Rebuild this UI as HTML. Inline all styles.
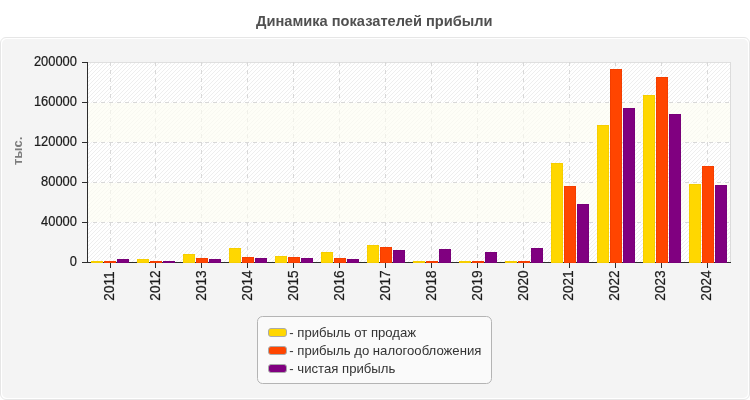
<!DOCTYPE html>
<html lang="ru"><head><meta charset="utf-8"><title>Динамика показателей прибыли</title>
<style>html,body{margin:0;padding:0;background:#fff}body{width:750px;height:400px;overflow:hidden}svg{display:block}text{font-family:"Liberation Sans",sans-serif}</style>
</head><body>
<svg width="750" height="400" viewBox="0 0 750 400">
<defs><pattern id="h" width="4" height="4" patternUnits="userSpaceOnUse"><rect x="1" y="0" width="1" height="1" fill="#eee"/><rect x="0" y="1" width="1" height="1" fill="#eee"/><rect x="3" y="2" width="1" height="1" fill="#eee"/><rect x="2" y="3" width="1" height="1" fill="#eee"/></pattern></defs>
<rect width="750" height="400" fill="#fff"/>
<rect x="0.5" y="37.5" width="749" height="362" rx="5.5" fill="none" stroke="#e6e6e6"/>
<rect x="2" y="39" width="746" height="359" rx="5" fill="#f4f4f4"/>
<text x="374.3" y="25.6" text-anchor="middle" font-weight="bold" font-size="14.63" fill="#505050">Динамика показателей прибыли</text>
<g shape-rendering="crispEdges">
<rect x="88" y="62" width="643" height="201" fill="#fff"/>
<rect x="88" y="63" width="642" height="199" fill="url(#h)"/>
<rect x="88" y="62" width="643" height="1" fill="#dfdfdf"/>
<rect x="730" y="62" width="1" height="200" fill="#dcdcdc"/>
<line x1="110.5" y1="62" x2="110.5" y2="262" stroke="#d8d8d8" stroke-dasharray="4 4"/>
<line x1="155.5" y1="62" x2="155.5" y2="262" stroke="#d8d8d8" stroke-dasharray="4 4"/>
<line x1="201.5" y1="62" x2="201.5" y2="262" stroke="#d8d8d8" stroke-dasharray="4 4"/>
<line x1="247.5" y1="62" x2="247.5" y2="262" stroke="#d8d8d8" stroke-dasharray="4 4"/>
<line x1="293.5" y1="62" x2="293.5" y2="262" stroke="#d8d8d8" stroke-dasharray="4 4"/>
<line x1="339.5" y1="62" x2="339.5" y2="262" stroke="#d8d8d8" stroke-dasharray="4 4"/>
<line x1="385.5" y1="62" x2="385.5" y2="262" stroke="#d8d8d8" stroke-dasharray="4 4"/>
<line x1="431.5" y1="62" x2="431.5" y2="262" stroke="#d8d8d8" stroke-dasharray="4 4"/>
<line x1="477.5" y1="62" x2="477.5" y2="262" stroke="#d8d8d8" stroke-dasharray="4 4"/>
<line x1="523.5" y1="62" x2="523.5" y2="262" stroke="#d8d8d8" stroke-dasharray="4 4"/>
<line x1="569.5" y1="62" x2="569.5" y2="262" stroke="#d8d8d8" stroke-dasharray="4 4"/>
<line x1="615.5" y1="62" x2="615.5" y2="262" stroke="#d8d8d8" stroke-dasharray="4 4"/>
<line x1="661.5" y1="62" x2="661.5" y2="262" stroke="#d8d8d8" stroke-dasharray="4 4"/>
<line x1="707.5" y1="62" x2="707.5" y2="262" stroke="#d8d8d8" stroke-dasharray="4 4"/>
<rect x="88" y="103" width="642" height="39" fill="#fdfdf3" fill-opacity="0.65"/>
<rect x="88" y="183" width="642" height="39" fill="#fdfdf3" fill-opacity="0.65"/>
<line x1="85" y1="102.5" x2="730" y2="102.5" stroke="#d8d8d8" stroke-dasharray="4 4"/>
<line x1="85" y1="142.5" x2="730" y2="142.5" stroke="#d8d8d8" stroke-dasharray="4 4"/>
<line x1="85" y1="182.5" x2="730" y2="182.5" stroke="#d8d8d8" stroke-dasharray="4 4"/>
<line x1="85" y1="222.5" x2="730" y2="222.5" stroke="#d8d8d8" stroke-dasharray="4 4"/>
<rect x="85" y="100" width="2" height="124" fill="#f4f4f4"/>
<rect x="87" y="62" width="1" height="201" fill="#2d2d2d"/>
<rect x="87" y="262" width="644" height="1" fill="#2d2d2d"/>
<rect x="82" y="62" width="5" height="1" fill="#2d2d2d"/>
<rect x="82" y="102" width="5" height="1" fill="#2d2d2d"/>
<rect x="82" y="142" width="5" height="1" fill="#2d2d2d"/>
<rect x="82" y="182" width="5" height="1" fill="#2d2d2d"/>
<rect x="82" y="222" width="5" height="1" fill="#2d2d2d"/>
<rect x="82" y="262" width="5" height="1" fill="#2d2d2d"/>
<rect x="110" y="263" width="1" height="5" fill="#2d2d2d"/>
<rect x="155" y="263" width="1" height="5" fill="#2d2d2d"/>
<rect x="201" y="263" width="1" height="5" fill="#2d2d2d"/>
<rect x="247" y="263" width="1" height="5" fill="#2d2d2d"/>
<rect x="293" y="263" width="1" height="5" fill="#2d2d2d"/>
<rect x="339" y="263" width="1" height="5" fill="#2d2d2d"/>
<rect x="385" y="263" width="1" height="5" fill="#2d2d2d"/>
<rect x="431" y="263" width="1" height="5" fill="#2d2d2d"/>
<rect x="477" y="263" width="1" height="5" fill="#2d2d2d"/>
<rect x="523" y="263" width="1" height="5" fill="#2d2d2d"/>
<rect x="569" y="263" width="1" height="5" fill="#2d2d2d"/>
<rect x="615" y="263" width="1" height="5" fill="#2d2d2d"/>
<rect x="661" y="263" width="1" height="5" fill="#2d2d2d"/>
<rect x="707" y="263" width="1" height="5" fill="#2d2d2d"/>
<rect x="91" y="261" width="12" height="2" fill="#f6ce00"/>
<rect x="104" y="261" width="12" height="2" fill="#f43e00"/>
<rect x="117" y="259" width="12" height="4" fill="#780078"/>
<rect x="118" y="260" width="10" height="2" fill="#800080"/>
<rect x="137" y="259" width="12" height="4" fill="#f6ce00"/>
<rect x="138" y="260" width="10" height="2" fill="#ffd700"/>
<rect x="150" y="261" width="12" height="2" fill="#f43e00"/>
<rect x="163" y="261" width="12" height="2" fill="#780078"/>
<rect x="183" y="254" width="12" height="9" fill="#f6ce00"/>
<rect x="184" y="255" width="10" height="7" fill="#ffd700"/>
<rect x="196" y="258" width="12" height="5" fill="#f43e00"/>
<rect x="197" y="259" width="10" height="3" fill="#ff4500"/>
<rect x="209" y="259" width="12" height="4" fill="#780078"/>
<rect x="210" y="260" width="10" height="2" fill="#800080"/>
<rect x="229" y="248" width="12" height="15" fill="#f6ce00"/>
<rect x="230" y="249" width="10" height="13" fill="#ffd700"/>
<rect x="242" y="257" width="12" height="6" fill="#f43e00"/>
<rect x="243" y="258" width="10" height="4" fill="#ff4500"/>
<rect x="255" y="258" width="12" height="5" fill="#780078"/>
<rect x="256" y="259" width="10" height="3" fill="#800080"/>
<rect x="275" y="256" width="12" height="7" fill="#f6ce00"/>
<rect x="276" y="257" width="10" height="5" fill="#ffd700"/>
<rect x="288" y="257" width="12" height="6" fill="#f43e00"/>
<rect x="289" y="258" width="10" height="4" fill="#ff4500"/>
<rect x="301" y="258" width="12" height="5" fill="#780078"/>
<rect x="302" y="259" width="10" height="3" fill="#800080"/>
<rect x="321" y="252" width="12" height="11" fill="#f6ce00"/>
<rect x="322" y="253" width="10" height="9" fill="#ffd700"/>
<rect x="334" y="258" width="12" height="5" fill="#f43e00"/>
<rect x="335" y="259" width="10" height="3" fill="#ff4500"/>
<rect x="347" y="259" width="12" height="4" fill="#780078"/>
<rect x="348" y="260" width="10" height="2" fill="#800080"/>
<rect x="367" y="245" width="12" height="18" fill="#f6ce00"/>
<rect x="368" y="246" width="10" height="16" fill="#ffd700"/>
<rect x="380" y="247" width="12" height="16" fill="#f43e00"/>
<rect x="381" y="248" width="10" height="14" fill="#ff4500"/>
<rect x="393" y="250" width="12" height="13" fill="#780078"/>
<rect x="394" y="251" width="10" height="11" fill="#800080"/>
<rect x="413" y="261" width="12" height="2" fill="#f6ce00"/>
<rect x="426" y="261" width="12" height="2" fill="#f43e00"/>
<rect x="439" y="249" width="12" height="14" fill="#780078"/>
<rect x="440" y="250" width="10" height="12" fill="#800080"/>
<rect x="459" y="261" width="12" height="2" fill="#f6ce00"/>
<rect x="472" y="261" width="12" height="2" fill="#f43e00"/>
<rect x="485" y="252" width="12" height="11" fill="#780078"/>
<rect x="486" y="253" width="10" height="9" fill="#800080"/>
<rect x="505" y="261" width="12" height="2" fill="#f6ce00"/>
<rect x="518" y="261" width="12" height="2" fill="#f43e00"/>
<rect x="531" y="248" width="12" height="15" fill="#780078"/>
<rect x="532" y="249" width="10" height="13" fill="#800080"/>
<rect x="551" y="163" width="12" height="100" fill="#f6ce00"/>
<rect x="552" y="164" width="10" height="98" fill="#ffd700"/>
<rect x="564" y="186" width="12" height="77" fill="#f43e00"/>
<rect x="565" y="187" width="10" height="75" fill="#ff4500"/>
<rect x="577" y="204" width="12" height="59" fill="#780078"/>
<rect x="578" y="205" width="10" height="57" fill="#800080"/>
<rect x="597" y="125" width="12" height="138" fill="#f6ce00"/>
<rect x="598" y="126" width="10" height="136" fill="#ffd700"/>
<rect x="610" y="69" width="12" height="194" fill="#f43e00"/>
<rect x="611" y="70" width="10" height="192" fill="#ff4500"/>
<rect x="623" y="108" width="12" height="155" fill="#780078"/>
<rect x="624" y="109" width="10" height="153" fill="#800080"/>
<rect x="643" y="95" width="12" height="168" fill="#f6ce00"/>
<rect x="644" y="96" width="10" height="166" fill="#ffd700"/>
<rect x="656" y="77" width="12" height="186" fill="#f43e00"/>
<rect x="657" y="78" width="10" height="184" fill="#ff4500"/>
<rect x="669" y="114" width="12" height="149" fill="#780078"/>
<rect x="670" y="115" width="10" height="147" fill="#800080"/>
<rect x="689" y="184" width="12" height="79" fill="#f6ce00"/>
<rect x="690" y="185" width="10" height="77" fill="#ffd700"/>
<rect x="702" y="166" width="12" height="97" fill="#f43e00"/>
<rect x="703" y="167" width="10" height="95" fill="#ff4500"/>
<rect x="715" y="185" width="12" height="78" fill="#780078"/>
<rect x="716" y="186" width="10" height="76" fill="#800080"/>
</g>
<text transform="translate(76.9,266.1) scale(0.92,1)" text-anchor="end" font-size="14" fill="#1c1c1c" stroke="#1c1c1c" stroke-width="0.22">0</text>
<text transform="translate(76.9,226.1) scale(0.92,1)" text-anchor="end" font-size="14" fill="#1c1c1c" stroke="#1c1c1c" stroke-width="0.22">40000</text>
<text transform="translate(76.9,186.1) scale(0.92,1)" text-anchor="end" font-size="14" fill="#1c1c1c" stroke="#1c1c1c" stroke-width="0.22">80000</text>
<text transform="translate(76.9,146.1) scale(0.92,1)" text-anchor="end" font-size="14" fill="#1c1c1c" stroke="#1c1c1c" stroke-width="0.22">120000</text>
<text transform="translate(76.9,106.1) scale(0.92,1)" text-anchor="end" font-size="14" fill="#1c1c1c" stroke="#1c1c1c" stroke-width="0.22">160000</text>
<text transform="translate(76.9,66.1) scale(0.92,1)" text-anchor="end" font-size="14" fill="#1c1c1c" stroke="#1c1c1c" stroke-width="0.22">200000</text>
<text transform="translate(114.20,300.7) rotate(-90) scale(0.975,1)" font-size="14" fill="#1c1c1c" stroke="#1c1c1c" stroke-width="0.22">2011</text>
<text transform="translate(160.13,300.7) rotate(-90) scale(0.975,1)" font-size="14" fill="#1c1c1c" stroke="#1c1c1c" stroke-width="0.22">2012</text>
<text transform="translate(206.06,300.7) rotate(-90) scale(0.975,1)" font-size="14" fill="#1c1c1c" stroke="#1c1c1c" stroke-width="0.22">2013</text>
<text transform="translate(251.99,300.7) rotate(-90) scale(0.975,1)" font-size="14" fill="#1c1c1c" stroke="#1c1c1c" stroke-width="0.22">2014</text>
<text transform="translate(297.91,300.7) rotate(-90) scale(0.975,1)" font-size="14" fill="#1c1c1c" stroke="#1c1c1c" stroke-width="0.22">2015</text>
<text transform="translate(343.84,300.7) rotate(-90) scale(0.975,1)" font-size="14" fill="#1c1c1c" stroke="#1c1c1c" stroke-width="0.22">2016</text>
<text transform="translate(389.77,300.7) rotate(-90) scale(0.975,1)" font-size="14" fill="#1c1c1c" stroke="#1c1c1c" stroke-width="0.22">2017</text>
<text transform="translate(435.70,300.7) rotate(-90) scale(0.975,1)" font-size="14" fill="#1c1c1c" stroke="#1c1c1c" stroke-width="0.22">2018</text>
<text transform="translate(481.63,300.7) rotate(-90) scale(0.975,1)" font-size="14" fill="#1c1c1c" stroke="#1c1c1c" stroke-width="0.22">2019</text>
<text transform="translate(527.56,300.7) rotate(-90) scale(0.975,1)" font-size="14" fill="#1c1c1c" stroke="#1c1c1c" stroke-width="0.22">2020</text>
<text transform="translate(573.49,300.7) rotate(-90) scale(0.975,1)" font-size="14" fill="#1c1c1c" stroke="#1c1c1c" stroke-width="0.22">2021</text>
<text transform="translate(619.41,300.7) rotate(-90) scale(0.975,1)" font-size="14" fill="#1c1c1c" stroke="#1c1c1c" stroke-width="0.22">2022</text>
<text transform="translate(665.34,300.7) rotate(-90) scale(0.975,1)" font-size="14" fill="#1c1c1c" stroke="#1c1c1c" stroke-width="0.22">2023</text>
<text transform="translate(711.27,300.7) rotate(-90) scale(0.975,1)" font-size="14" fill="#1c1c1c" stroke="#1c1c1c" stroke-width="0.22">2024</text>
<text transform="translate(22,165) rotate(-90) scale(0.965,1)" font-size="13.5" font-weight="bold" fill="#7d7d7d">тыс.</text>
<rect x="257.5" y="316.5" width="234" height="67" rx="5" fill="#fafafa" stroke="#b4b4b4"/>
<rect x="268.5" y="328.5" width="18" height="8" rx="2.5" fill="#ffd700" stroke="#aaa"/>
<text x="289.3" y="336.8" font-size="13.15" fill="#333">- прибыль от продаж</text>
<rect x="268.5" y="346.5" width="18" height="8" rx="2.5" fill="#ff4500" stroke="#aaa"/>
<text x="289.3" y="354.8" font-size="13.15" fill="#333">- прибыль до налогообложения</text>
<rect x="268.5" y="364.5" width="18" height="8" rx="2.5" fill="#800080" stroke="#aaa"/>
<text x="289.3" y="372.8" font-size="13.15" fill="#333">- чистая прибыль</text>
</svg></body></html>
